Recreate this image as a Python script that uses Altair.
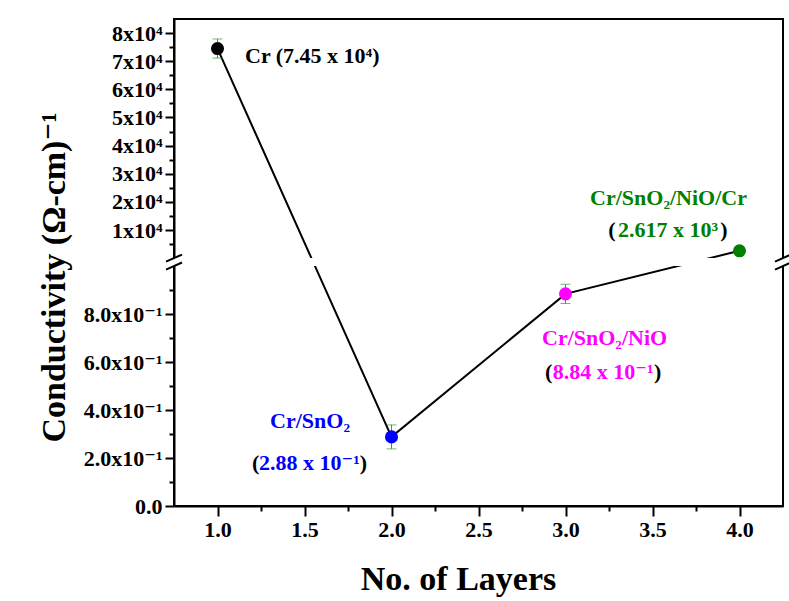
import altair as alt
import pandas as pd

# ---------------- data ----------------
layers = [1.0, 2.0, 3.0, 4.0]
conductivity = [7.45e4, 0.288, 0.884, 2.617e3]
cond_err = [0.34e4, 0.05, 0.04, 0.0]
point_colors = ["#000000", "#0000ff", "#ff00ff", "#008000"]

x_ticks = [1.0, 1.25, 1.5, 1.75, 2.0, 2.25, 2.5, 2.75, 3.0, 3.25, 3.5, 3.75, 4.0]
low_ticks = [0.0, 0.1, 0.2, 0.3, 0.4, 0.5, 0.6, 0.7, 0.8, 0.9]
high_ticks = [5e3, 1e4, 1.5e4, 2e4, 2.5e4, 3e4, 3.5e4, 4e4, 4.5e4, 5e4,
              5.5e4, 6e4, 6.5e4, 7e4, 7.5e4, 8e4, 8.5e4]

# plain (single-colour) annotations
lab_text = ["Cr (7.45 x 10⁴)", "Cr/SnO₂", "Cr/SnO₂/NiO", "Cr/SnO₂/NiO/Cr"]
lab_x = [1.158, 1.302, 2.865, 3.141]
lab_v = [6.935e4, 0.325, 0.671, 1.886e4]
lab_color = ["#000000", "#0000ff", "#ff00ff", "#008000"]

# value annotations: coloured number inside black parentheses
val_text = ["2.88 x 10⁻¹", "8.84 x 10⁻¹", "2.617 x 10³"]
val_left = [1.198, 2.882, 3.246]
val_right = [1.859, 3.551, 3.932]
val_v = [0.150, 0.529, 0.751e4]
val_color = ["#0000ff", "#ff00ff", "#008000"]

# ---------------- broken-axis geometry ----------------
W, H = 609, 487
U0 = 1.0329        # position of the upper segment's zero
US = 1.1725e-5     # upper segment scale factor
T_MAX = 2.0295
BREAK = [1.0, 1.0333]
FONT = "Liberation Serif, DejaVu Serif, serif"
ERR_GREEN = "#2e9e2e"


def texpr(field, ref="v"):
    return f"datum.{ref} >= 1000 ? {U0} + datum.{field} * {US} : datum.{field}"


y_tick_vals = low_ticks + [U0 + v * US for v in high_ticks]

y_major = (f"(datum.value <= 1.001 ? round(datum.value*10) % 2 == 0 : "
           f"round((datum.value - {U0})/{US}/5000) % 2 == 0)")
y_label = (f"datum.value <= 1.001 ? (round(datum.value*10) % 2 == 0 ? "
           f"(datum.value < 0.001 ? '0.0' : format(datum.value*10, '.1f') + 'x10⁻¹') : '') : "
           f"(round((datum.value - {U0})/{US}/5000) % 2 == 0 ? "
           f"round((datum.value - {U0})/{US}/10000) + 'x10⁴' : '')")
x_major = "abs(datum.value*2 - round(datum.value*2)) < 0.001"

common_axis = dict(domainColor="black", domainWidth=2, tickColor="black", tickWidth=2,
                   labelFont=FONT, labelFontSize=22, labelFontWeight="bold", labelColor="black",
                   titleFont=FONT, titleFontWeight="bold", titleColor="black", grid=False, zindex=0)

x_axis = alt.Axis(values=x_ticks, labelExpr=f"{x_major} ? format(datum.value, '.1f') : ''",
                  tickSize={"condition": {"test": x_major, "value": 10}, "value": 5},
                  labelPadding=3, titleFontSize=34, titlePadding=22, titleX=284, **common_axis)
y_axis = alt.Axis(values=y_tick_vals, labelExpr=y_label,
                  tickSize={"condition": {"test": y_major, "value": 9}, "value": 5},
                  labelPadding=3, titleFontSize=34, titlePadding=12, titleY=258, **common_axis)

xs = alt.Scale(domain=[0.75, 4.25], nice=False, zero=False)
ys = alt.Scale(domain=[0, T_MAX], nice=False, zero=False)


def X(f):
    return alt.X(f, type="quantitative", scale=xs, axis=x_axis, title="No. of Layers")


def Y(f):
    return alt.Y(f, type="quantitative", scale=ys, axis=y_axis, title="Conductivity (Ω-cm)⁻¹")


pts = pd.DataFrame({"x": layers, "v": conductivity, "err": cond_err, "color": point_colors})
base = alt.Chart(pts).transform_calculate(
    lo="datum.v - datum.err", hi="datum.v + datum.err"
).transform_calculate(
    t=texpr("v"), tlo=texpr("lo"), thi=texpr("hi")
)

line = base.mark_line(color="black", strokeWidth=2).encode(x=X("x"), y=Y("t"))

band = alt.Chart(pd.DataFrame({"b0": [BREAK[0]], "b1": [BREAK[1]]})).mark_rect(
    color="white").encode(x=alt.value(-14), x2=alt.value(W + 14), y=Y("b0"), y2="b1")

errb = base.transform_filter("datum.err > 0")
err_rule = errb.mark_rule(color=ERR_GREEN, strokeWidth=1).encode(x=X("x"), y=Y("tlo"), y2="thi")
err_lo = errb.mark_tick(color=ERR_GREEN, orient="horizontal", size=10, thickness=1).encode(
    x=X("x"), y=Y("tlo"))
err_hi = errb.mark_tick(color=ERR_GREEN, orient="horizontal", size=10, thickness=1).encode(
    x=X("x"), y=Y("thi"))

circles = base.mark_circle(size=170, opacity=1).encode(
    x=X("x"), y=Y("t"), color=alt.Color("color:N", scale=None))

# break marks (two parallel slashes on each vertical frame line)
dx, dt = 0.046, 0.0146
sl = pd.DataFrame({
    "x1": [0.75 - dx, 0.75 - dx, 4.25 - dx, 4.25 - dx],
    "x2": [0.75 + dx, 0.75 + dx, 4.25 + dx, 4.25 + dx],
    "y1": [BREAK[0] - dt, BREAK[1] - dt, BREAK[0] - dt, BREAK[1] - dt],
    "y2": [BREAK[0] + dt, BREAK[1] + dt, BREAK[0] + dt, BREAK[1] + dt],
})
slashes = alt.Chart(sl).mark_rule(color="black", strokeWidth=2).encode(
    x=X("x1"), x2="x2", y=Y("y1"), y2="y2")

# annotations
tkw = dict(baseline="alphabetic", font=FONT, fontSize=22, fontWeight="bold")

labs = alt.Chart(pd.DataFrame({"x": lab_x, "v": lab_v, "text": lab_text, "color": lab_color})
                 ).transform_calculate(t=texpr("v"))
t_lab = labs.mark_text(align="left", **tkw).encode(
    x=X("x"), y=Y("t"), text="text:N", color=alt.Color("color:N", scale=None))

vals = alt.Chart(pd.DataFrame({"xl": val_left, "xr": val_right, "v": val_v,
                               "text": val_text, "color": val_color})
                 ).transform_calculate(t=texpr("v"), xm="(datum.xl + datum.xr) / 2")
t_val = vals.mark_text(align="center", **tkw).encode(
    x=X("xm"), y=Y("t"), text="text:N", color=alt.Color("color:N", scale=None))
t_open = vals.mark_text(align="left", color="black", **tkw).encode(
    x=X("xl"), y=Y("t"), text=alt.value("("))
t_close = vals.mark_text(align="right", color="black", **tkw).encode(
    x=X("xr"), y=Y("t"), text=alt.value(")"))

chart = alt.layer(line, band, err_rule, err_lo, err_hi, circles, slashes,
                  t_lab, t_val, t_open, t_close).properties(
    width=W, height=H,
    padding={"left": 174, "top": 19, "right": 6, "bottom": 95},
    autosize=alt.AutoSizeParams(type="none"),
    background="white",
).configure_view(stroke="black", strokeWidth=2)

chart.save("out.html", embed_options={"renderer": "svg", "actions": False})
